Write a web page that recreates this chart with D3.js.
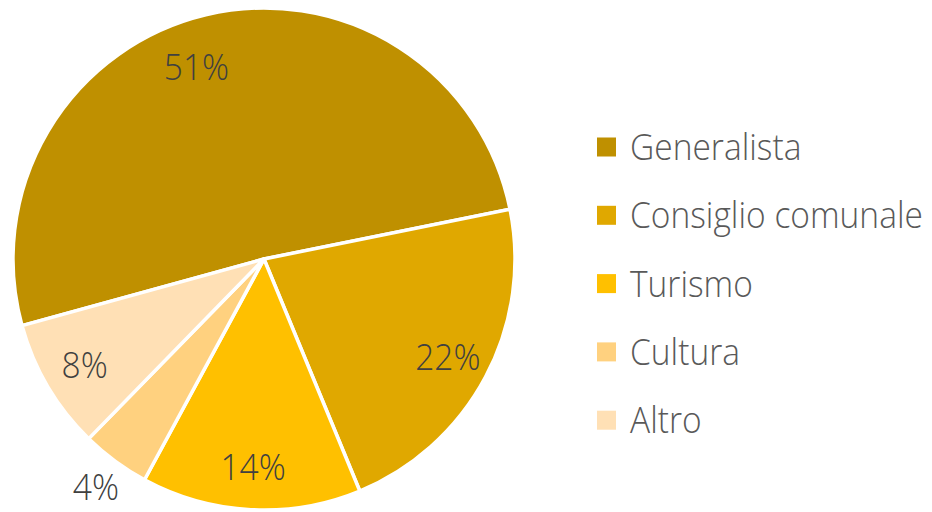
<!DOCTYPE html>
<html><head><meta charset="utf-8">
<script src="https://cdn.jsdelivr.net/npm/d3@7"></script>
<style>html,body{margin:0;padding:0;background:#fff;}svg{display:block;}</style>
</head><body>
<svg id="chart" width="932" height="512"></svg>
<script>
const categories = ["Generalista", "Consiglio comunale", "Turismo", "Cultura", "Altro"];
const values = [51.0, 21.9, 14.1, 4.4, 8.4];
const colors = ["#BF9000", "#E0A800", "#FFC000", "#FFD17F", "#FFE0B5"];

const svg = d3.select("#chart");
const cx = 264, cy = 259, R = 251;
const fontFam = "'Open Sans', 'DejaVu Sans', sans-serif";
const fontSize = 37;
const textColor = "#595959";

const startDeg = -105.4;
const pie = d3.pie().sort(null).value(d => d)
  .startAngle(startDeg * Math.PI / 180)
  .endAngle(startDeg * Math.PI / 180 + 2 * Math.PI);
const arcs = pie(values);
const arc = d3.arc().innerRadius(0).outerRadius(R);

const g = svg.append("g").attr("transform", `translate(${cx},${cy})`);
g.selectAll("path").data(arcs).join("path")
  .attr("d", arc)
  .attr("fill", (d, i) => colors[i])
  .attr("stroke", "#fff")
  .attr("stroke-width", 3.5)
  .attr("stroke-linejoin", "round");

// narrow look: render at a smaller font size (so widths match) and stretch vertically
const probe = svg.append("text").attr("font-family", fontFam).attr("font-size", fontSize)
  .attr("font-weight", 300).text("Consiglio comunale");
const natural = probe.node().getComputedTextLength();
probe.remove();
const squeeze = 293 / natural;
const fsSmall = fontSize * squeeze;
const vScale = 1 / squeeze;

function addText(parent, x, y, txt, color, anchor) {
  return parent.append("text")
    .attr("transform", `translate(${x},${y}) scale(1,${vScale})`)
    .attr("text-anchor", anchor)
    .attr("font-family", fontFam).attr("font-size", fsSmall)
    .attr("font-weight", 300).attr("fill", color)
    .text(txt);
}

const total = d3.sum(values);
arcs.forEach((d, i) => {
  const pct = d.data / total;
  let mid = (d.startAngle + d.endAngle) / 2;
  let rr = pct < 0.06 ? R * 1.13 : R * 0.83;
  if (i === 0) { mid -= 6 * Math.PI / 180; rr = R * 0.81; }
  const x = rr * Math.sin(mid), y = -rr * Math.cos(mid);
  addText(g, x, y + 13, Math.round(d.data) + "%", "#404040", "middle");
});

const legX = 597, legY0 = 147, legStep = 68.3, sq = 19;
const leg = svg.append("g");
categories.forEach((c, i) => {
  const y = legY0 + i * legStep;
  leg.append("rect").attr("x", legX).attr("y", y - sq / 2).attr("width", sq).attr("height", sq)
    .attr("fill", colors[i]);
  addText(leg, 630, y + 13, c, textColor, "start");
});
</script>
</body></html>
